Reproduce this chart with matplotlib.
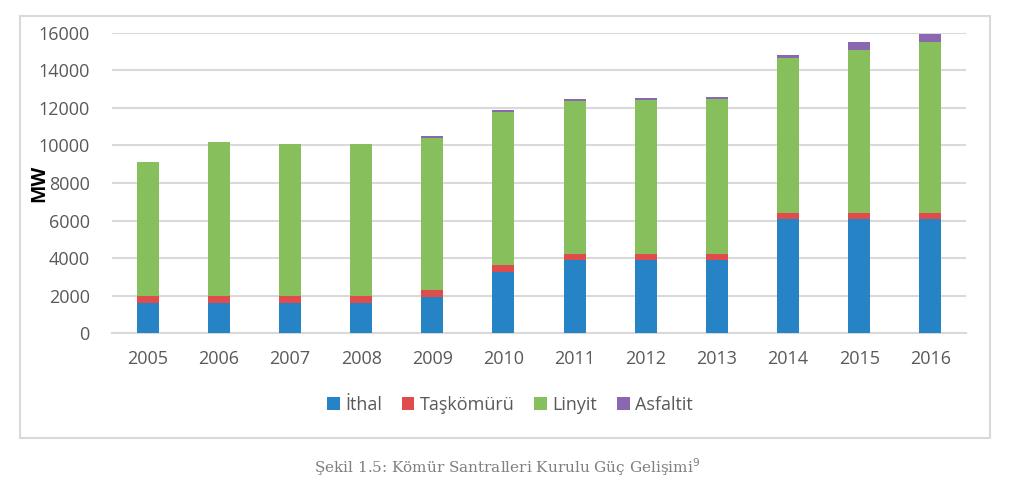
import matplotlib
matplotlib.use("Agg")
import matplotlib.pyplot as plt
from matplotlib.patches import Rectangle
import numpy as np

years = ["2005", "2006", "2007", "2008", "2009", "2010", "2011", "2012", "2013", "2014", "2015", "2016"]
ithal = [1630, 1630, 1630, 1630, 1916, 3280, 3900, 3900, 3900, 6066, 6066, 6066]
taskomuru = [355, 355, 355, 355, 388, 355, 320, 320, 320, 350, 350, 350]
linyit = [7117, 8212, 8106, 8106, 8106, 8143, 8143, 8180, 8232, 8217, 8659, 9085]
asfaltit = [0, 0, 0, 0, 105, 106, 107, 123, 124, 160, 426, 426]
series_names = ["İthal", "Taşkömürü", "Linyit", "Asfaltit"]
colors = ["#2683c6", "#e04b4b", "#86bf5c", "#8a67b1"]

plt.rcParams['font.family'] = ['Open Sans', 'DejaVu Sans']

fig = plt.figure(figsize=(10.13, 4.97), dpi=100)
fig.patch.set_facecolor("white")

# outer chart frame
frame = Rectangle((20 / 1013, 1 - 438 / 497), (990 - 20) / 1013, (438 - 16) / 497,
                  transform=fig.transFigure, fill=False, edgecolor="#d9d9d9", linewidth=1.5)
fig.add_artist(frame)

ax = fig.add_axes([112 / 1013, 1 - 333.3 / 497, (966 - 112) / 1013, (333.3 - 32.7) / 497])
x = np.arange(len(years))
data = [ithal, taskomuru, linyit, asfaltit]
bottom = np.zeros(len(years))
handles = []
for vals, name, c in zip(data, series_names, colors):
    b = ax.bar(x, vals, width=0.31, bottom=bottom, color=c, label=name, zorder=3)
    handles.append(b)
    bottom += np.array(vals)

ax.set_xlim(-0.5, len(years) - 0.5)
ax.set_ylim(0, 16000)
ax.set_yticks(range(0, 16001, 2000))
ax.set_xticks(x)
ax.set_xticklabels(years)
ax.grid(axis="y", color="#d9d9d9", linewidth=1.5, zorder=0)
for s in ["top", "right", "left"]:
    ax.spines[s].set_visible(False)
ax.spines["bottom"].set_color("#d9d9d9")
ax.spines["bottom"].set_linewidth(1.5)
ax.tick_params(axis="both", length=0, labelsize=13, colors="#595959")
ax.tick_params(axis="y", pad=16)
ax.tick_params(axis="x", pad=12)
ax.set_ylabel("MW", fontsize=14, fontweight="bold", color="black")
ax.yaxis.set_label_coords(-0.074, 0.5)

fig.legend(handles=handles, labels=series_names, loc="center", bbox_to_anchor=(510 / 1013, 1 - 405 / 497),
           ncol=4, frameon=False, fontsize=13, handlelength=0.7, handleheight=0.7,
           handletextpad=0.3, columnspacing=1.1, labelcolor="#595959")

fig.text(507 / 1013, 1 - 467 / 497, "Şekil 1.5: Kömür Santralleri Kurulu Güç Gelişimi$^{9}$",
         ha="center", va="center", fontsize=11, color="#7f7f7f", family=["DejaVu Serif"])

fig.savefig("out.png", dpi=100, facecolor="white")
